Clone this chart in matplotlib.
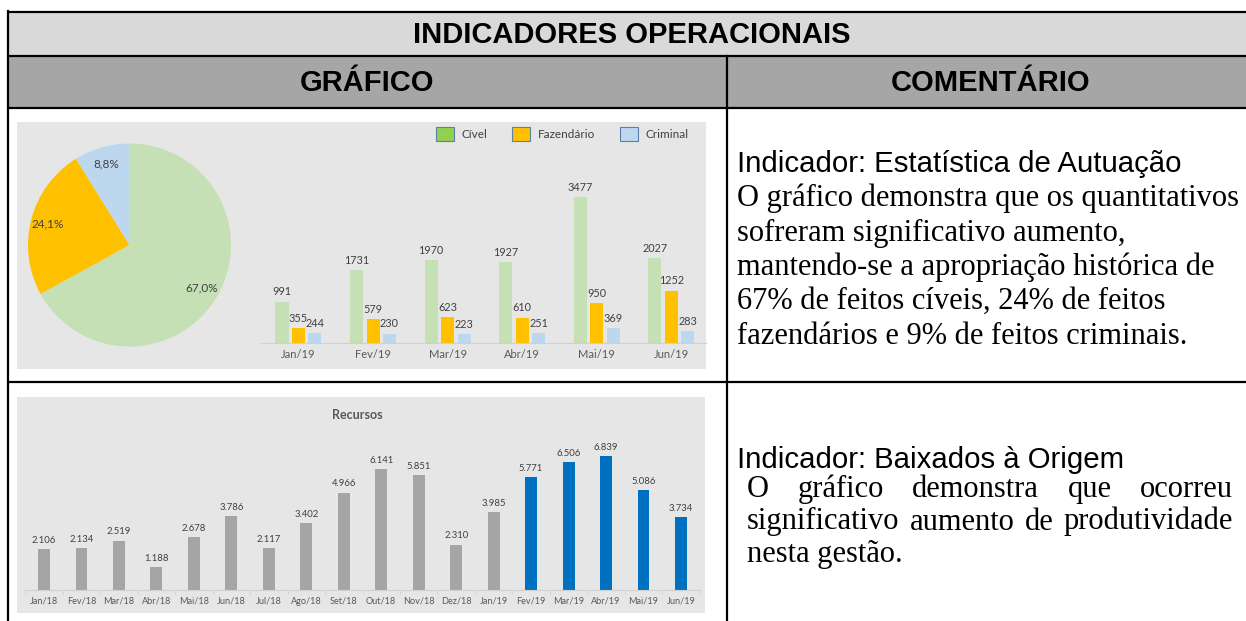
import numpy as np
import matplotlib
matplotlib.use("Agg")
import matplotlib.pyplot as plt
from matplotlib.patches import Rectangle, Patch

# ---------------- data ----------------
months_19 = ['Jan/19', 'Fev/19', 'Mar/19', 'Abr/19', 'Mai/19', 'Jun/19']
civel = [991, 1731, 1970, 1927, 3477, 2027]
fazendario = [355, 579, 623, 610, 950, 1252]
criminal = [244, 230, 223, 251, 369, 283]
series_names = ['Cível', 'Fazendário', 'Criminal']

months_rec = ['Jan/18', 'Fev/18', 'Mar/18', 'Abr/18', 'Mai/18', 'Jun/18', 'Jul/18',
              'Ago/18', 'Set/18', 'Out/18', 'Nov/18', 'Dez/18', 'Jan/19', 'Fev/19',
              'Mar/19', 'Abr/19', 'Mai/19', 'Jun/19']
recursos = [2106, 2134, 2519, 1188, 2678, 3786, 2117, 3402, 4966, 6141, 5851, 2310,
            3985, 5771, 6506, 6839, 5086, 3734]
highlight_from = 'Fev/19'

header_title = 'INDICADORES OPERACIONAIS'
col_headers = ['GRÁFICO', 'COMENTÁRIO']
comment1_title = 'Indicador: Estatística de Autuação'
comment1_lines = ['O gráfico demonstra que os quantitativos',
                  'sofreram significativo aumento,',
                  'mantendo-se a apropriação histórica de',
                  '67% de feitos cíveis, 24% de feitos',
                  'fazendários e 9% de feitos criminais.']
comment2_title = 'Indicador: Baixados à Origem'
comment2_lines = ['O gráfico demonstra que ocorreu',
                  'significativo aumento de produtividade',
                  'nesta gestão.']

# ---------------- style ----------------
W, H = 1246, 621
C_GREEN, C_GREEN_LEG, C_ORANGE, C_BLUE_L = '#c5e0b4', '#92d050', '#ffc000', '#bdd7ee'
C_GRAY_BAR, C_BLUE = '#a5a5a5', '#0070c0'
C_IMG_BG = '#e6e6e6'
C_TXT = '#595959'
CHART_FONT = ['Lato', 'DejaVu Sans']

fig = plt.figure(figsize=(W / 100, H / 100), dpi=100)
fig.patch.set_facecolor('white')


def px_rect(x0, y0, x1, y1):
    return [x0 / W, 1 - y1 / H, (x1 - x0) / W, (y1 - y0) / H]


bg = fig.add_axes([0, 0, 1, 1])
bg.set_xlim(0, W)
bg.set_ylim(H, 0)
bg.axis('off')

# table backgrounds
bg.add_patch(Rectangle((8, 12), 1260, 44, facecolor='#d9d9d9', edgecolor='none'))
bg.add_patch(Rectangle((8, 56), 1260, 52, facecolor='#a6a6a6', edgecolor='none'))
# chart image backgrounds
bg.add_patch(Rectangle((17, 122), 689, 247, facecolor=C_IMG_BG, edgecolor='none'))
bg.add_patch(Rectangle((17, 397), 688, 216, facecolor=C_IMG_BG, edgecolor='none'))

lw = 1.6
for y in (12, 56, 108, 382):
    bg.plot([8, W + 5], [y, y], color='black', lw=lw, solid_capstyle='butt')
bg.plot([8, 8], [11, H + 5], color='black', lw=lw)
bg.plot([726.5, 726.5], [56, H + 5], color='black', lw=lw)

hdr_font = ['Liberation Sans', 'DejaVu Sans']
bg.text(632, 35, header_title, ha='center', va='center', fontsize=21,
        fontweight='bold', family=hdr_font)
bg.text(367, 83, col_headers[0], ha='center', va='center', fontsize=21,
        fontweight='bold', family=hdr_font)
bg.text(991, 83, col_headers[1], ha='center', va='center', fontsize=21,
        fontweight='bold', family=hdr_font)

# comments
serif = ['Liberation Serif', 'DejaVu Serif']
bg.text(737, 172, comment1_title, ha='left', va='baseline', fontsize=21.2, family=hdr_font)
base1 = [206, 240.5, 275, 309, 343.5]
for y, line in zip(base1, comment1_lines):
    bg.text(737, y, line, ha='left', va='baseline', fontsize=22, family=serif)

bg.text(737, 468, comment2_title, ha='left', va='baseline', fontsize=21.2, family=hdr_font)
renderer = fig.canvas.get_renderer()


def justify(words, x0, x1, y):
    ts = [bg.text(0, y, w, ha='left', va='baseline', fontsize=22, family=serif) for w in words]
    widths = [t.get_window_extent(renderer).width for t in ts]
    gap = (x1 - x0 - sum(widths)) / (len(words) - 1)
    x = x0
    for t, wd in zip(ts, widths):
        t.set_x(x)
        x += wd + gap


base2 = [497, 529.5, 562]
justify(comment2_lines[0].split(), 747, 1233, base2[0])
justify(comment2_lines[1].split(), 747, 1233, base2[1])
bg.text(747, base2[2], comment2_lines[2], ha='left', va='baseline', fontsize=22, family=serif)

# ---------------- pie ----------------
totals = [sum(civel), sum(fazendario), sum(criminal)]
axp = fig.add_axes(px_rect(28, 143.5, 231, 346.5))
axp.pie(totals, colors=[C_GREEN, C_ORANGE, C_BLUE_L], startangle=90, counterclock=False,
        autopct=lambda p: f'{p:.1f}%'.replace('.', ','), pctdistance=0.83,
        wedgeprops=dict(linewidth=0),
        textprops=dict(fontsize=8.5, color='#404040', family=CHART_FONT))
axp.set_xlim(-1, 1)
axp.set_ylim(-1, 1)

# ---------------- grouped bars ----------------
ax1 = fig.add_axes(px_rect(261.2, 175, 706, 343.3))
ax1.patch.set_alpha(0)
x = np.arange(len(months_19))
bw, off = 0.175, 0.221
vals = [civel, fazendario, criminal]
cols = [C_GREEN, C_ORANGE, C_BLUE_L]
for i, (v, c) in enumerate(zip(vals, cols)):
    b = ax1.bar(x + (i - 1) * off, v, width=bw, color=c)
    ax1.bar_label(b, padding=3, fontsize=7.8, color='#404040', family=CHART_FONT)
ax1.set_xlim(-0.5, 5.465)
ax1.set_ylim(0, 4000)
ax1.set_xticks(x)
ax1.set_xticklabels(months_19, fontsize=8, color=C_TXT, family=CHART_FONT)
ax1.tick_params(axis='x', length=0, pad=4)
ax1.set_yticks([])
for s in ('top', 'right', 'left'):
    ax1.spines[s].set_visible(False)
ax1.spines['bottom'].set_color('#d0d0d0')
handles = [Patch(facecolor=c, edgecolor='#5a7fa8', linewidth=0.8) for c in
           [C_GREEN_LEG, C_ORANGE, C_BLUE_L]]
leg = fig.legend(handles, series_names, loc='center', ncol=3,
                 bbox_to_anchor=((435 + 690) / 2 / W, 1 - 134 / H),
                 frameon=False, prop=dict(family=CHART_FONT, size=8.5),
                 handlelength=1.5, handleheight=1.35, handletextpad=0.65,
                 columnspacing=2.1, borderpad=0)
for t in leg.get_texts():
    t.set_color('#404040')

# ---------------- Recursos bars ----------------
ax2 = fig.add_axes(px_rect(25.3, 433, 699.7, 590))
ax2.patch.set_alpha(0)
x2 = np.arange(len(months_rec))
hi = months_rec.index(highlight_from)
colors2 = [C_GRAY_BAR if i < hi else C_BLUE for i in range(len(months_rec))]
b2 = ax2.bar(x2, recursos, width=0.32, color=colors2)
ax2.bar_label(b2, labels=[f'{v:,}'.replace(',', '.') for v in recursos], padding=3,
              fontsize=6.8, color='#404040', family=CHART_FONT)
ax2.set_xlim(-0.5, len(months_rec) - 0.5)
ax2.set_ylim(0, 8000)
ax2.set_xticks(x2)
ax2.set_xticklabels(months_rec, fontsize=6.6, color=C_TXT, family=CHART_FONT)
ax2.set_xticks(np.arange(len(months_rec) + 1) - 0.5, minor=True)
ax2.tick_params(axis='x', which='major', length=0, pad=5)
ax2.tick_params(axis='x', which='minor', length=3, color='#d0d0d0', direction='out')
ax2.set_yticks([])
for s in ('top', 'right', 'left'):
    ax2.spines[s].set_visible(False)
ax2.spines['bottom'].set_color('#d0d0d0')
bg.text(357, 415, 'Recursos', ha='center', va='center', fontsize=9, fontweight='bold',
        color=C_TXT, family=CHART_FONT)

fig.savefig('out.png', dpi=100)
